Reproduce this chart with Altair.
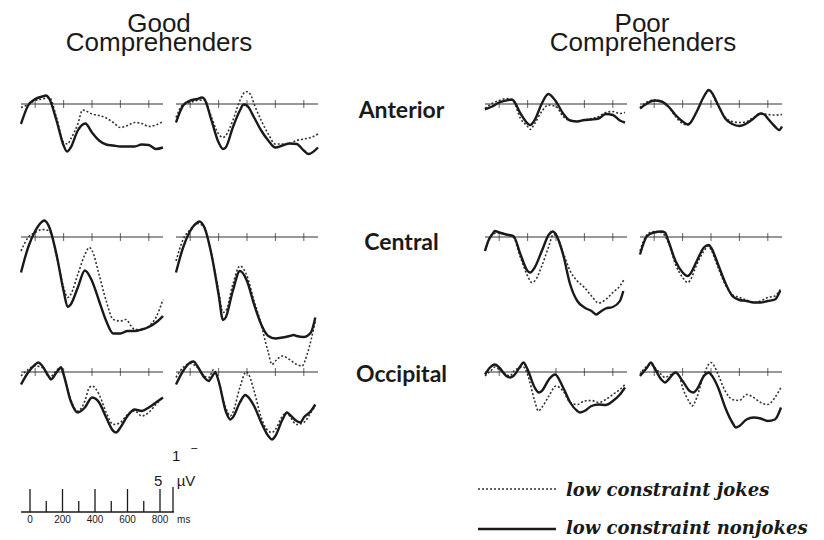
import altair as alt
import pandas as pd

# ---------------- data: time (ms) / amplitude (uV) ----------------
# Good comprehenders - Anterior
G_ANT_1_J_T = [-100,-50,0,50,100,150,200,229,250,300,334,350,400,450,500,550,600,650,700,750,800,850,900]
G_ANT_1_J_V = [-0.7,-0.1,0.7,1.0,1.3,-2.7,-7.7,-8.0,-7.0,-4.0,-1.2,-1.3,-2.0,-2.3,-2.8,-3.7,-4.7,-4.3,-3.7,-3.9,-4.5,-4.2,-3.5]
G_ANT_1_N_T = [-100,-50,0,50,76,100,150,200,224,250,300,353,400,450,500,550,600,650,700,750,800,850,900]
G_ANT_1_N_V = [-4.0,-0.3,1.0,1.5,1.7,1.0,-3.3,-8.3,-9.5,-8.7,-5.3,-3.9,-5.7,-7.3,-8.1,-8.3,-8.5,-8.5,-8.5,-8.1,-8.2,-9.0,-8.7]
G_ANT_2_J_T = [-100,-50,0,50,100,150,200,231,250,300,350,393,423,450,500,550,600,650,700,750,800,850,900]
G_ANT_2_J_V = [-2.7,-0.1,0.3,0.7,0.8,-2.7,-6.0,-6.7,-6.3,-3.3,0.7,2.5,2.0,0.0,-3.3,-6.0,-8.0,-8.0,-7.9,-7.3,-7.0,-6.7,-6.0]
G_ANT_2_N_T = [-100,-50,0,50,83,100,150,200,231,250,300,350,376,400,450,500,550,600,650,700,750,800,834,900]
G_ANT_2_N_V = [-3.7,-0.3,0.7,1.0,1.3,1.0,-3.3,-7.7,-9.0,-8.7,-4.7,-1.3,-0.1,-0.3,-2.7,-5.3,-7.3,-8.7,-8.3,-7.9,-8.0,-9.3,-10.0,-8.7]
# Poor comprehenders - Anterior
P_ANT_1_J_T = [-100,-50,0,50,100,150,200,217,250,300,346,400,450,500,550,600,650,700,750,800,850,886]
P_ANT_1_J_V = [-0.9,0.1,0.7,1.1,0.5,-2.9,-4.5,-5.1,-3.9,-1.5,-0.2,-0.5,-2.5,-3.3,-3.4,-3.2,-2.9,-2.5,-1.7,-1.5,-1.9,-1.7]
P_ANT_1_N_T = [-100,-50,0,50,88,100,150,200,217,250,300,346,400,450,500,550,600,650,700,750,800,850,886]
P_ANT_1_N_V = [-1.1,-0.5,0.3,0.7,0.9,0.7,-1.9,-3.9,-4.2,-3.2,0.1,2.0,0.5,-1.9,-3.3,-3.5,-3.2,-3.1,-2.9,-2.0,-2.2,-3.3,-3.7]
P_ANT_2_J_T = [-100,-50,0,50,100,150,200,236,250,300,350,384,400,450,500,550,600,650,700,750,800,850,900]
P_ANT_2_J_V = [-0.7,0.4,0.8,0.6,-0.5,-2.5,-3.9,-4.2,-3.9,-1.5,1.5,2.7,2.3,-0.4,-2.7,-3.5,-3.7,-3.5,-2.7,-1.9,-2.1,-2.2,-2.1]
P_ANT_2_N_T = [-100,-50,0,50,100,150,200,236,250,300,350,384,400,450,500,550,600,650,700,750,776,800,850,881,900]
P_ANT_2_N_V = [-0.9,0.1,0.7,0.5,-0.5,-2.2,-3.5,-4.1,-3.9,-1.5,1.5,2.8,2.5,-0.2,-2.9,-4.0,-4.4,-3.9,-2.9,-1.9,-2.1,-2.9,-4.5,-5.2,-4.5]

# Good comprehenders - Central
G_CEN_1_J_T = [-100,-50,0,50,100,150,200,229,250,300,350,381,400,450,500,550,600,639,675,700,750,800,850,900]
G_CEN_1_J_V = [-2.8,-0.1,0.9,1.5,1.2,-3.8,-10.1,-12.1,-11.5,-7.5,-3.5,-2.1,-2.7,-7.5,-12.8,-16.5,-16.8,-16.5,-17.8,-18.5,-18.5,-17.8,-16.1,-12.5]
G_CEN_1_N_T = [-100,-50,0,50,64,100,150,200,229,250,300,350,400,450,500,550,600,650,700,750,800,850,900]
G_CEN_1_N_V = [-7.1,-2.1,1.2,3.1,3.3,1.9,-3.5,-10.8,-14.0,-13.5,-10.1,-6.7,-8.8,-12.8,-16.8,-19.3,-19.3,-18.8,-18.8,-18.5,-18.0,-17.1,-15.8]
G_CEN_2_J_T = [-100,-50,0,50,100,150,200,231,250,300,350,400,450,500,517,550,576,600,650,700,750,787,823,881]
G_CEN_2_J_V = [-4.8,-0.5,1.5,2.7,1.9,-3.5,-10.8,-15.1,-14.8,-9.5,-5.8,-7.8,-12.8,-17.5,-19.5,-23.1,-25.5,-24.8,-23.8,-24.5,-25.5,-25.8,-23.5,-16.8]
G_CEN_2_N_T = [-100,-50,0,50,64,100,150,200,231,250,300,350,400,450,500,550,600,650,700,729,750,800,850,881]
G_CEN_2_N_V = [-7.1,-2.1,1.2,2.9,3.1,1.9,-3.5,-11.5,-16.6,-16.1,-10.8,-6.8,-8.8,-13.5,-17.5,-19.8,-20.3,-20.1,-19.8,-19.6,-19.8,-20.0,-19.1,-16.1]
# Poor comprehenders - Central
P_CEN_1_J_T = [-100,-50,0,50,100,150,200,229,250,300,350,381,400,450,500,550,600,650,700,750,800,850,879]
P_CEN_1_J_V = [-2.8,0.5,0.9,0.5,-0.1,-4.1,-7.8,-9.1,-8.8,-5.8,-1.8,0.5,0.2,-3.1,-6.8,-8.8,-10.1,-11.8,-13.2,-12.5,-11.1,-9.8,-8.5]
P_CEN_1_N_T = [-100,-77,-50,-30,0,50,100,150,200,217,250,300,350,377,400,450,500,550,600,650,686,700,750,800,850,874]
P_CEN_1_N_V = [-2.8,-0.8,0.5,1.2,0.9,0.5,0.2,-3.5,-6.8,-7.1,-6.1,-2.8,0.5,1.1,0.5,-3.5,-9.5,-12.8,-14.1,-14.8,-15.5,-15.2,-14.3,-14.0,-12.8,-10.8]
P_CEN_2_J_T = [-100,-50,0,50,100,150,200,236,250,300,350,384,400,450,500,550,600,650,700,750,800,850,888]
P_CEN_2_J_V = [-2.8,0.5,1.1,0.9,-1.1,-5.5,-8.1,-9.1,-8.8,-5.5,-2.8,-1.8,-2.5,-6.1,-9.5,-11.5,-12.1,-12.6,-13.1,-12.8,-12.1,-11.8,-10.5]
P_CEN_2_N_T = [-100,-50,0,50,76,100,150,200,236,250,300,350,384,400,450,500,550,600,650,700,750,800,850,888]
P_CEN_2_N_V = [-3.5,0.2,0.9,1.1,0.9,-0.8,-4.8,-7.1,-7.8,-7.5,-4.8,-2.1,-1.6,-2.1,-5.5,-9.1,-11.8,-12.6,-12.8,-13.1,-13.1,-12.8,-12.5,-10.7]

# Good comprehenders - Occipital
G_OCC_1_J_T = [-100,-50,0,50,100,150,182,200,250,300,350,381,400,450,500,550,600,650,700,750,800,850,900]
G_OCC_1_J_V = [-0.8,0.5,1.2,0.9,-1.1,0.3,1.0,-0.5,-5.5,-7.8,-5.8,-3.1,-2.8,-4.5,-8.1,-10.5,-10.1,-8.5,-7.8,-8.8,-8.1,-6.5,-5.1]
G_OCC_1_N_T = [-100,-50,0,22,50,100,111,150,182,200,250,300,350,400,428,450,500,550,569,600,650,700,750,800,850,900]
G_OCC_1_N_V = [-2.5,-0.1,1.5,1.9,1.2,-1.1,-1.5,-0.1,0.9,-0.5,-5.8,-8.1,-7.1,-5.1,-5.4,-6.1,-9.1,-11.8,-12.1,-11.1,-8.8,-7.5,-7.8,-7.1,-6.1,-5.1]
G_OCC_2_J_T = [-100,-50,0,50,100,130,165,200,250,283,300,350,393,412,450,500,550,576,600,650,682,700,750,800,850,881]
G_OCC_2_J_V = [-1.1,0.9,1.7,0.9,-0.8,-1.1,0.5,-1.8,-7.1,-8.8,-8.1,-3.1,0.0,-0.5,-3.8,-9.1,-11.8,-12.1,-11.5,-8.8,-8.1,-8.8,-10.5,-10.1,-8.1,-6.8]
G_OCC_2_N_T = [-100,-50,0,24,50,100,130,150,177,200,250,283,300,350,388,400,450,500,550,576,600,650,682,700,750,776,800,850,881]
G_OCC_2_N_V = [-2.5,0.2,1.9,2.1,1.2,-1.1,-1.8,-1.1,-0.1,-1.8,-7.8,-9.5,-9.1,-6.1,-4.6,-4.8,-6.8,-10.1,-12.8,-13.5,-12.8,-9.5,-8.1,-8.5,-9.8,-10.1,-9.1,-7.8,-6.5]
# Poor comprehenders - Occipital
P_OCC_1_J_T = [-100,-50,-30,0,50,76,100,150,170,200,250,276,300,350,400,450,500,550,600,650,700,750,800,850,886]
P_OCC_1_J_V = [-0.8,0.5,1.0,0.5,-0.5,-0.8,0.1,0.9,1.0,-0.5,-5.8,-7.8,-7.1,-4.8,-2.8,-3.8,-6.1,-6.5,-5.8,-5.7,-6.1,-5.5,-4.5,-3.5,-2.5]
P_OCC_1_N_T = [-100,-65,-30,0,50,76,100,150,170,200,250,280,300,350,393,450,500,550,569,600,650,700,750,800,850,886]
P_OCC_1_N_V = [-0.5,0.9,1.5,0.9,-0.8,-1.1,-0.8,1.2,1.9,0.5,-3.1,-4.1,-3.8,-1.5,-0.5,-3.1,-6.1,-7.8,-8.1,-7.8,-6.8,-6.5,-6.6,-5.8,-4.5,-3.1]
P_OCC_2_J_T = [-100,-50,-23,0,50,76,100,150,177,200,250,266,300,350,400,423,450,500,550,600,650,700,750,800,850,893]
P_OCC_2_J_V = [-0.5,1.2,1.5,1.0,-0.5,-1.1,-0.8,-0.1,-0.8,-3.1,-6.1,-6.8,-5.1,-0.5,1.9,1.2,-0.5,-3.8,-5.5,-5.7,-4.5,-5.1,-6.1,-6.5,-5.1,-3.1]
P_OCC_2_N_T = [-100,-50,-23,0,50,76,100,150,200,250,276,300,350,384,400,450,500,550,576,600,650,700,750,800,850,893]
P_OCC_2_N_V = [-0.8,0.9,1.9,0.9,-1.5,-2.1,-1.5,-0.1,-1.8,-3.8,-4.1,-3.5,-0.8,-0.1,-0.5,-3.1,-7.1,-10.1,-11.1,-10.8,-9.5,-9.1,-9.3,-9.8,-9.5,-7.1]

# ---------------- text ----------------
TITLE_GOOD = ["Good", "Comprehenders"]
TITLE_POOR = ["Poor", "Comprehenders"]
ROW_LABELS = ["Anterior", "Central", "Occipital"]
AXIS_TICKS_MS = [0, 200, 400, 600, 800]
SCALE_MAJOR_MS = [0, 200, 400, 600, 800]
SCALE_MINOR_MS = [100, 300, 500, 700]
SCALE_LABELS = ["0", "200", "400", "600", "800"]
SCALE_UV = 5
LEGEND_LABELS = ["low constraint jokes", "low constraint nonjokes"]

# ---------------- layout / style ----------------
PANEL_W = 142
LABEL_W = 141
HEADER_H = 67
ROW_H = [100, 180, 90]
FOOTER_H = 85
ROW_DOMAIN = [[-14.4, 5.6], [-23.8, 12.2], [-14.8, 3.2]]
X_DOMAIN = [-100, 900]
GAP = 13
INK = "#1a1a1a"
DOT = "#333333"


def xq(field, dom):
    return alt.X(field, type="quantitative", scale=alt.Scale(domain=dom, nice=False, zero=False), axis=None)


def yq(field, dom):
    return alt.Y(field, type="quantitative", scale=alt.Scale(domain=dom, nice=False, zero=False), axis=None)


def empty(w, h):
    return alt.Chart(pd.DataFrame({"label": [""]})).mark_text(baseline="top").encode(
        x=alt.value(10), y=alt.value(10), text="label:N").properties(width=w, height=h)


def panel(tj, vj, tn, vn, row):
    dom = ROW_DOMAIN[row]
    base = alt.Chart(pd.DataFrame({"t0": [X_DOMAIN[0]], "t1": [X_DOMAIN[1]], "v": [0.0]})).mark_rule(
        color=DOT, strokeWidth=1.1
    ).encode(x=xq("t0", X_DOMAIN), x2="t1:Q", y=yq("v", dom))
    ticks = alt.Chart(pd.DataFrame({"t": AXIS_TICKS_MS, "v": [0.0] * len(AXIS_TICKS_MS)})).mark_tick(
        orient="vertical", size=8, thickness=1.1, color=DOT
    ).encode(x=xq("t", X_DOMAIN), y=yq("v", dom))
    jokes = alt.Chart(pd.DataFrame({"t": tj, "v": vj})).mark_line(
        interpolate="monotone", strokeDash=[2, 2], strokeWidth=1.6, color=DOT
    ).encode(x=xq("t", X_DOMAIN), y=yq("v", dom))
    nonjokes = alt.Chart(pd.DataFrame({"t": tn, "v": vn})).mark_line(
        interpolate="monotone", strokeWidth=2.4, color=INK
    ).encode(x=xq("t", X_DOMAIN), y=yq("v", dom))
    return alt.layer(base, ticks, jokes, nonjokes).properties(width=PANEL_W, height=ROW_H[row])


LABEL_DY = [7, 6, 3]


def row_label(row):
    dom = ROW_DOMAIN[row]
    return alt.Chart(pd.DataFrame({"label": [ROW_LABELS[row]], "v": [0.0]})).mark_text(
        font="Lato", fontSize=23, fontWeight="bold", color=INK, baseline="middle", align="center", dy=LABEL_DY[row]
    ).encode(x=alt.value(LABEL_W / 2), y=yq("v", dom), text="label:N").properties(width=LABEL_W, height=ROW_H[row])


def title_text(txt, x, y):
    return alt.Chart(pd.DataFrame({"label": [txt]})).mark_text(
        font="Liberation Sans", fontSize=26, color=INK, align="center", baseline="top"
    ).encode(x=alt.value(x), y=alt.value(y), text="label:N")


head_good = alt.layer(title_text(TITLE_GOOD[0], 138, 2), title_text(TITLE_GOOD[1], 138, 21)).properties(
    width=PANEL_W, height=HEADER_H)
head_poor = alt.layer(title_text(TITLE_POOR[0], 157, 2), title_text(TITLE_POOR[1], 158, 21)).properties(
    width=PANEL_W, height=HEADER_H)
header_cells = [head_good, empty(PANEL_W, HEADER_H), empty(LABEL_W, HEADER_H), head_poor, empty(PANEL_W, HEADER_H)]

panels = [
    [(G_ANT_1_J_T, G_ANT_1_J_V, G_ANT_1_N_T, G_ANT_1_N_V), (G_ANT_2_J_T, G_ANT_2_J_V, G_ANT_2_N_T, G_ANT_2_N_V),
     (P_ANT_1_J_T, P_ANT_1_J_V, P_ANT_1_N_T, P_ANT_1_N_V), (P_ANT_2_J_T, P_ANT_2_J_V, P_ANT_2_N_T, P_ANT_2_N_V)],
    [(G_CEN_1_J_T, G_CEN_1_J_V, G_CEN_1_N_T, G_CEN_1_N_V), (G_CEN_2_J_T, G_CEN_2_J_V, G_CEN_2_N_T, G_CEN_2_N_V),
     (P_CEN_1_J_T, P_CEN_1_J_V, P_CEN_1_N_T, P_CEN_1_N_V), (P_CEN_2_J_T, P_CEN_2_J_V, P_CEN_2_N_T, P_CEN_2_N_V)],
    [(G_OCC_1_J_T, G_OCC_1_J_V, G_OCC_1_N_T, G_OCC_1_N_V), (G_OCC_2_J_T, G_OCC_2_J_V, G_OCC_2_N_T, G_OCC_2_N_V),
     (P_OCC_1_J_T, P_OCC_1_J_V, P_OCC_1_N_T, P_OCC_1_N_V), (P_OCC_2_J_T, P_OCC_2_J_V, P_OCC_2_N_T, P_OCC_2_N_V)],
]
body_cells = []
for r in range(3):
    p = panels[r]
    body_cells += [panel(*p[0], r), panel(*p[1], r), row_label(r), panel(*p[2], r), panel(*p[3], r)]

# ---------------- footer: scale bar ----------------
SB_X = [-55.4, -55.4 + PANEL_W / 0.1625]
SB_Y = [-3.8, 13.2]
sb_base = alt.Chart(pd.DataFrame({"t0": [-55], "t1": [886], "v": [0.0]})).mark_rule(color=INK, strokeWidth=1.3).encode(
    x=xq("t0", SB_X), x2="t1:Q", y=yq("v", SB_Y))
sb_major = alt.Chart(pd.DataFrame({"t": SCALE_MAJOR_MS, "v0": [0.0] * 5, "v1": [4.6] * 5})).mark_rule(
    color=INK, strokeWidth=1.3).encode(x=xq("t", SB_X), y=yq("v0", SB_Y), y2="v1:Q")
sb_minor = alt.Chart(pd.DataFrame({"t": SCALE_MINOR_MS, "v0": [0.0] * 4, "v1": [2.2] * 4})).mark_rule(
    color=INK, strokeWidth=1.3).encode(x=xq("t", SB_X), y=yq("v0", SB_Y), y2="v1:Q")
sb_uv = alt.Chart(pd.DataFrame({"t": [880], "v0": [0.0], "v1": [SCALE_UV]})).mark_rule(
    color=INK, strokeWidth=1.3).encode(x=xq("t", SB_X), y=yq("v0", SB_Y), y2="v1:Q")
sb_lbl = alt.Chart(pd.DataFrame({"t": SCALE_MAJOR_MS, "v": [-1.6] * 5, "label": SCALE_LABELS})).mark_text(
    font="Liberation Sans", fontSize=10, color=INK, baseline="middle").encode(
    x=xq("t", SB_X), y=yq("v", SB_Y), text="label:N")
sb_ms = alt.Chart(pd.DataFrame({"t": [905], "v": [-1.6], "label": ["ms"]})).mark_text(
    font="Liberation Sans", fontSize=10, color=INK, baseline="middle", align="left").encode(
    x=xq("t", SB_X), y=yq("v", SB_Y), text="label:N")
sb_units = alt.Chart(pd.DataFrame({"t": [788, 960, 899, 1010], "v": [6.2, 6.2, 11.2, 11.4],
                                   "label": [str(SCALE_UV), "µV", "1", "‾"]})).mark_text(
    font="Liberation Sans", fontSize=15, color=INK, baseline="middle").encode(
    x=xq("t", SB_X), y=yq("v", SB_Y), text="label:N")
scalebar = alt.layer(sb_base, sb_major, sb_minor, sb_uv, sb_lbl, sb_ms, sb_units).properties(
    width=PANEL_W, height=FOOTER_H)

# ---------------- footer: legend (in the label column, extending right) ----------------
LEG_FONT = dict(font="DejaVu Serif", fontSize=18, fontStyle="italic", fontWeight="bold", color=INK,
                align="left", baseline="middle")
leg_j = alt.Chart(pd.DataFrame({"k": [0]})).mark_rule(strokeDash=[2, 2], strokeWidth=1.6, color=DOT).encode(
    x=alt.value(147), x2=alt.value(225), y=alt.value(43))
leg_n = alt.Chart(pd.DataFrame({"k": [0]})).mark_rule(strokeWidth=2.4, color=INK).encode(
    x=alt.value(147), x2=alt.value(225), y=alt.value(83))
leg_tj = alt.Chart(pd.DataFrame({"label": [LEGEND_LABELS[0]]})).mark_text(**LEG_FONT).encode(
    x=alt.value(235), y=alt.value(45), text="label:N")
leg_tn = alt.Chart(pd.DataFrame({"label": [LEGEND_LABELS[1]]})).mark_text(**LEG_FONT).encode(
    x=alt.value(235), y=alt.value(83), text="label:N")
legend = alt.layer(leg_j, leg_n, leg_tj, leg_tn).properties(width=LABEL_W, height=FOOTER_H)

footer_cells = [scalebar, empty(PANEL_W, FOOTER_H), legend, empty(PANEL_W, FOOTER_H), empty(PANEL_W, FOOTER_H)]

chart = alt.concat(
    *header_cells, *body_cells, *footer_cells,
    columns=5, spacing={"row": 0, "column": GAP}, bounds="flush"
).properties(
    padding={"left": 7, "top": 0, "right": 0, "bottom": 0}
).configure_view(stroke="transparent")

chart.save("out.html", embed_options={"renderer": "svg", "actions": False})
